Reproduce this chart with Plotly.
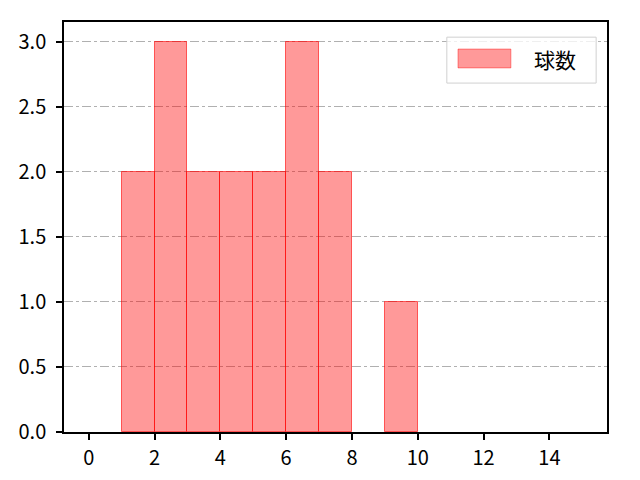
import plotly.graph_objects as go

# histogram bins (left edges) and counts
bin_left = [1, 2, 3, 4, 5, 6, 7, 9]
counts = [2, 3, 2, 2, 2, 3, 2, 1]
x_ticks = [0, 2, 4, 6, 8, 10, 12, 14]
y_ticks = [0.0, 0.5, 1.0, 1.5, 2.0, 2.5, 3.0]
series_name = "球数"

centers = [b + 0.5 for b in bin_left]
fill = "rgba(255,0,0,0.4)"

fig = go.Figure()
fig.add_trace(go.Bar(
    x=centers, y=counts, width=1, name=series_name, showlegend=False,
    marker=dict(color=fill, line=dict(color="rgba(255,0,0,0.6)", width=1)),
))

# matplotlib-like legend box drawn in paper coords
fig.add_shape(type="rect", xref="paper", yref="paper", x0=0.705, x1=0.980, y0=0.851, y1=0.963,
              line=dict(color="#d0d0d0", width=1), fillcolor="rgba(255,255,255,0.8)", layer="above")
fig.add_shape(type="rect", xref="paper", yref="paper", x0=0.7256, x1=0.823, y0=0.888, y1=0.934,
              line=dict(color="rgba(255,0,0,0.4)", width=1), fillcolor=fill, layer="above")
fig.add_annotation(x=0.862, y=0.91, xref="paper", yref="paper", text=series_name, showarrow=False,
                   xanchor="left", yanchor="middle", font=dict(size=21, color="black"))

fig.update_layout(
    width=640, height=480,
    margin=dict(l=56, r=41, t=14, b=56),
    plot_bgcolor="white", paper_bgcolor="white",
    font=dict(family="Noto Sans CJK JP, DejaVu Sans, sans-serif", size=20, color="black"),
    bargap=0,
    xaxis=dict(range=[-0.75, 15.75], tickvals=x_ticks, ticks="outside", ticklen=6, tickwidth=1.5,
               tickcolor="black", showline=True, linecolor="black", linewidth=1.5, mirror=True,
               showgrid=False, zeroline=False, ticklabelstandoff=1, automargin=False),
    yaxis=dict(range=[0, 3.15], tickvals=y_ticks, tickformat=".1f", ticks="outside", ticklen=6,
               tickwidth=1.5, tickcolor="black", showline=True, linecolor="black", linewidth=1.5,
               mirror=True, zeroline=False, ticklabelstandoff=6, automargin=False,
               showgrid=True, gridcolor="#b0b0b0", griddash="dashdot", gridwidth=1),
)

fig.write_html("out.html")
